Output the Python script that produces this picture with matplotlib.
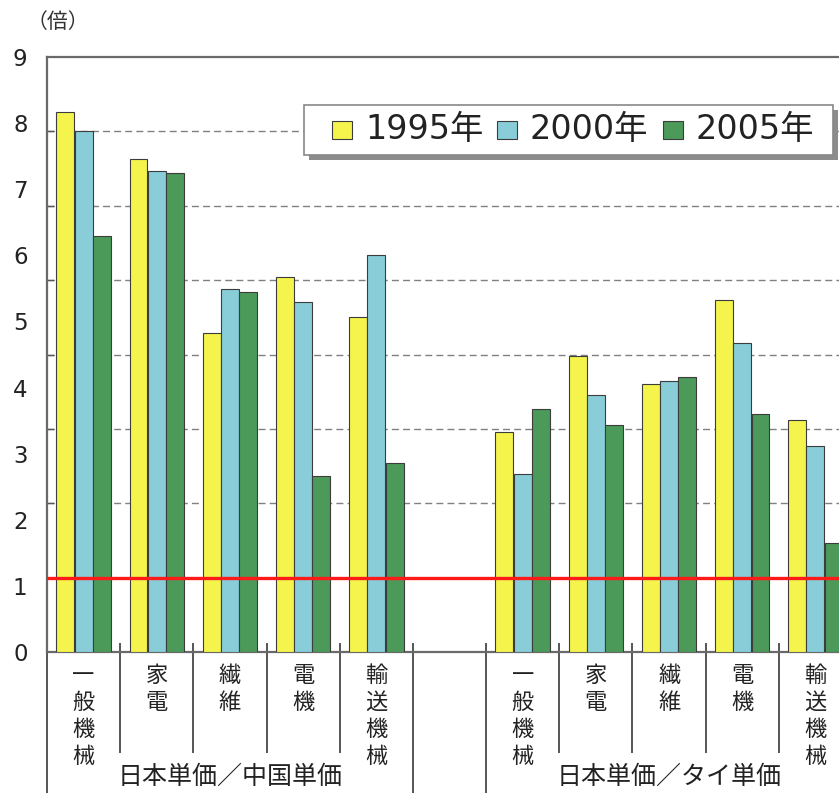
import matplotlib
matplotlib.use('Agg')
import matplotlib.pyplot as plt
import matplotlib.transforms as mtransforms
from matplotlib.patches import Rectangle

plt.rcParams['font.family'] = ['DejaVu Sans', 'Noto Sans CJK JP']
JP = ['Noto Sans CJK JP', 'DejaVu Sans']

# ---- data ----
items = ['一般機械', '家電', '繊維', '電機', '輸送機械']
regions = ['日本単価／中国単価', '日本単価／タイ単価']
years = ['1995年', '2000年', '2005年']
china_1995 = [8.17, 7.46, 4.83, 5.67, 5.07]
china_2000 = [7.88, 7.28, 5.49, 5.30, 6.01]
china_2005 = [6.29, 7.25, 5.45, 2.66, 2.86]
thai_1995 = [3.33, 4.48, 4.05, 5.33, 3.51]
thai_2000 = [2.69, 3.89, 4.10, 4.67, 3.12]
thai_2005 = [3.68, 3.43, 4.16, 3.60, 1.65]
yticks = list(range(0, 10))
parity = 1

colors = ['#F4F44C', '#88CDD8', '#4B9A59']
edge = '#3c3c3c'

W, H = 839, 793
fig = plt.figure(figsize=(W / 100, H / 100), dpi=100)
left, right, top, bottom = 47, 852, 57, 652
rect = [left / W, (H - bottom) / H, (right - left) / W, (bottom - top) / H]

# background axis: frame + dashed grid
axg = fig.add_axes(rect)
axg.set_xlim(0, 11)
axg.set_ylim(0, 8)
axg.set_yticks(range(1, 8))
axg.set_xticks([])
axg.tick_params(axis='y', direction='in', length=5, width=1, color='#555555',
                labelleft=False)
axg.grid(axis='y', color='#808080', linestyle=(0, (5, 3)), linewidth=1.0)
for s in ['top', 'left', 'bottom']:
    axg.spines[s].set_color('#6a6a6a')
    axg.spines[s].set_linewidth(1.6)
axg.spines['right'].set_visible(False)

# bar axis
axb = axg.twinx()
axb.set_ylim(0, 9)
axb.set_xlim(0, 11)
axb.patch.set_visible(False)
for s in axb.spines.values():
    s.set_visible(False)
axb.yaxis.set_ticks_position('left')
axb.set_yticks(yticks)
axb.tick_params(axis='y', length=0, pad=14, labelsize=16.5, labelcolor='#222222')

bw = 0.245
offs = [-0.25, 0.0, 0.25]
china = [china_1995, china_2000, china_2005]
thai = [thai_1995, thai_2000, thai_2005]
xc_china = [i + 0.5 for i in range(len(items))]
xc_thai = [i + 6.5 for i in range(len(items))]
for k in range(3):
    axb.bar([x + offs[k] for x in xc_china], china[k], width=bw,
            color=colors[k], edgecolor=edge, linewidth=0.8)
    axb.bar([x + offs[k] for x in xc_thai], thai[k], width=bw,
            color=colors[k], edgecolor=edge, linewidth=0.8)

# red parity line on top
axr = axg.twinx()
axr.set_ylim(0, 8)
axr.set_xlim(0, 11)
axr.patch.set_visible(False)
axr.axis('off')
axr.axhline(parity, color='#FF1A1A', linewidth=2.4)

# separators and category labels
tr = mtransforms.blended_transform_factory(axg.transData, axg.transAxes)
short_b = -(752 - bottom) / (bottom - top)
long_b = -(H - bottom) / (bottom - top)
up = 8 / (bottom - top)
for xb in [1, 2, 3, 4, 7, 8, 9, 10]:
    axg.plot([xb, xb], [up, short_b], transform=tr, color='#555555',
             linewidth=1.4, clip_on=False)
for xb in [0, 5, 6]:
    axg.plot([xb, xb], [up, long_b], transform=tr, color='#555555',
             linewidth=1.4, clip_on=False)

lab_y = -(664 - bottom) / (bottom - top)
for xs in (xc_china, xc_thai):
    for x, name in zip(xs, items):
        axg.text(x, lab_y, '\n'.join(name), transform=tr, ha='center',
                 va='top', fontsize=16, family=JP, color='#222222',
                 linespacing=1.22)

grp_y = -(777 - bottom) / (bottom - top)
axg.text(2.5, grp_y, regions[0], transform=tr, ha='center', va='center',
         fontsize=18, family=JP, color='#222222')
axg.text(8.5, grp_y, regions[1], transform=tr, ha='center', va='center',
         fontsize=18, family=JP, color='#222222')

fig.text(58 / W, 1 - 22 / H, '（倍）', ha='center', va='center', fontsize=15,
         family=JP, color='#333333')

# legend (drawn in figure pixel coordinates)
def fx(px):
    return px / W

def fy(py):
    return 1 - py / H

lx0, lx1, ly0, ly1 = 304, 833, 105, 155
fig.add_artist(Rectangle((fx(lx0 + 5), fy(ly1 + 5)), fx(lx1 - lx0), (ly1 - ly0) / H,
                         transform=fig.transFigure, facecolor='#8c8c8c',
                         edgecolor='none', zorder=9))
fig.add_artist(Rectangle((fx(lx0), fy(ly1)), fx(lx1 - lx0), (ly1 - ly0) / H,
                         transform=fig.transFigure, facecolor='white',
                         edgecolor='#888888', linewidth=1.2, zorder=10))
marker_x = [332, 497, 663]
for mx, c, lab in zip(marker_x, colors, years):
    fig.add_artist(Rectangle((fx(mx), fy(139)), fx(20), 18 / H,
                             transform=fig.transFigure, facecolor=c,
                             edgecolor=edge, linewidth=0.8, zorder=11))
    fig.text(fx(mx + 33), fy(130), lab, ha='left', va='center', fontsize=24,
             color='#222222', zorder=12)

fig.savefig('out.png', dpi=100)
